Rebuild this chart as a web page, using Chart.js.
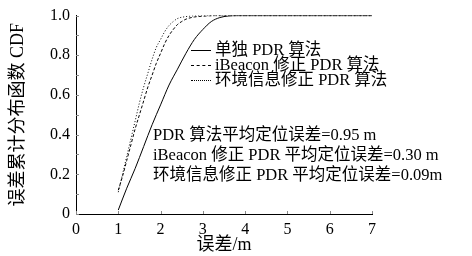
<!DOCTYPE html>
<html>
<head>
<meta charset="utf-8">
<script src="https://cdn.jsdelivr.net/npm/chart.js@4.4.1/dist/chart.umd.min.js"></script>
<style>
  html, body { margin: 0; padding: 0; background: #fff; }
  #wrap { position: relative; width: 472px; height: 256px; }
  canvas { display: block; }
  .txt { position: absolute; font-family: "Liberation Serif", "Noto Sans CJK SC", serif; font-size: 16.5px; color: #000; white-space: nowrap; line-height: 16px; }
  .sample { position: absolute; width: 20px; height: 0; border-top-width: 1px; border-top-color: #000; }
</style>
</head>
<body>
<div id="wrap">
  <canvas id="c" width="472" height="256"></canvas>
  <div class="sample" style="left:191px;top:50px;border-top-style:solid;"></div>
  <div class="txt" style="left:215px;top:42px;">单独 PDR 算法</div>
  <div class="sample" style="left:191px;top:65px;border-top-style:dashed;"></div>
  <div class="txt" style="left:215px;top:57px;">iBeacon 修正 PDR 算法</div>
  <div class="sample" style="left:191px;top:80px;border-top-style:dotted;"></div>
  <div class="txt" style="left:215px;top:72px;">环境信息修正 PDR 算法</div>
  <div class="txt" style="left:153px;top:127px;">PDR 算法平均定位误差=0.95 m</div>
  <div class="txt" style="left:153px;top:147px;">iBeacon 修正 PDR 平均定位误差=0.30 m</div>
  <div class="txt" style="left:153px;top:167px;">环境信息修正 PDR 平均定位误差=0.09m</div>
</div>
<script>
const seriesNames = ["单独 PDR 算法", "iBeacon 修正 PDR 算法", "环境信息修正 PDR 算法"];
const pdrX = [1.0, 1.2, 1.4, 1.6, 1.8, 2.0, 2.2, 2.4, 2.6, 2.8, 3.0, 3.2, 3.4, 3.6, 3.8, 7.0];
const pdrY = [0.02, 0.13, 0.23, 0.34, 0.45, 0.55, 0.65, 0.73, 0.81, 0.88, 0.93, 0.97, 0.99, 0.998, 1.0, 1.0];
const ibeaconX = [1.0, 1.1, 1.2, 1.3, 1.4, 1.5, 1.6, 1.7, 1.8, 1.9, 2.0, 2.1, 2.2, 2.3, 2.4, 2.5, 2.6, 2.8, 3.0, 3.3, 7.0];
const ibeaconY = [0.12, 0.19, 0.27, 0.35, 0.43, 0.50, 0.57, 0.64, 0.70, 0.76, 0.81, 0.86, 0.90, 0.93, 0.955, 0.97, 0.982, 0.993, 0.997, 1.0, 1.0];
const envX = [1.0, 1.1, 1.2, 1.3, 1.4, 1.5, 1.6, 1.7, 1.8, 1.9, 2.0, 2.1, 2.2, 2.3, 2.4, 2.6, 2.8, 3.0, 7.0];
const envY = [0.11, 0.20, 0.29, 0.38, 0.47, 0.56, 0.64, 0.71, 0.78, 0.84, 0.88, 0.92, 0.95, 0.97, 0.985, 0.995, 0.999, 1.0, 1.0];
const xTicks = [0, 1, 2, 3, 4, 5, 6, 7];
const yTicks = [0, 0.1, 0.2, 0.3, 0.4, 0.5, 0.6, 0.7, 0.8, 0.9, 1.0];
const xTitle = "误差/m";
const yTitle = "误差累计分布函数 CDF";

const pts = (xs, ys) => xs.map((x, i) => ({x: x, y: ys[i]}));
const FONT = "'Liberation Serif', 'Noto Sans CJK SC', serif";

const innerTicks = {
  id: 'innerTicks',
  afterDraw(chart) {
    const ctx = chart.ctx, a = chart.chartArea;
    const xs = chart.scales.x, ys = chart.scales.y;
    ctx.save();
    ctx.strokeStyle = '#888';
    ctx.lineWidth = 1;
    ctx.beginPath();
    xTicks.forEach(v => { const p = Math.round(xs.getPixelForValue(v)) + 0.5; ctx.moveTo(p, a.bottom); ctx.lineTo(p, a.bottom - 3); });
    yTicks.forEach(v => { const p = Math.round(ys.getPixelForValue(v)) + 0.5; ctx.moveTo(a.left, p); ctx.lineTo(a.left + 3, p); });
    ctx.stroke();
    ctx.restore();
  }
};

new Chart(document.getElementById('c'), {
  type: 'scatter',
  data: {
    datasets: [
      { label: seriesNames[0], data: pts(pdrX, pdrY), showLine: true, borderColor: '#000', borderWidth: 1, pointRadius: 0, cubicInterpolationMode: 'monotone' },
      { label: seriesNames[1], data: pts(ibeaconX, ibeaconY), showLine: true, borderColor: '#000', borderWidth: 1, borderDash: [3, 2], pointRadius: 0, cubicInterpolationMode: 'monotone' },
      { label: seriesNames[2], data: pts(envX, envY), showLine: true, borderColor: '#000', borderWidth: 1, borderDash: [1, 2], pointRadius: 0, cubicInterpolationMode: 'monotone' }
    ]
  },
  options: {
    responsive: false,
    animation: false,
    layout: { padding: { left: 0, right: 100, top: 10, bottom: 0 } },
    plugins: { legend: { display: false }, tooltip: { enabled: false } },
    scales: {
      x: {
        type: 'linear', min: 0, max: 7,
        afterFit(s) { s.height = 42; },
        afterBuildTicks(s) { s.ticks = xTicks.map(v => ({value: v})); },
        grid: { display: true, drawOnChartArea: false, drawTicks: false },
        border: { display: true, color: '#000', width: 1 },
        ticks: { color: '#000', padding: 6, font: { family: FONT, size: 16 }, callback: v => String(v) },
        title: { display: true, text: xTitle, color: '#000', font: { family: FONT, size: 18 }, padding: { top: 0, bottom: 0 } }
      },
      y: {
        type: 'linear', min: 0, max: 1,
        afterFit(s) { s.width = 76; },
        afterBuildTicks(s) { s.ticks = yTicks.map(v => ({value: v})); },
        grid: { display: true, drawOnChartArea: false, drawTicks: false },
        border: { display: true, color: '#000', width: 1 },
        ticks: { color: '#000', padding: 6, font: { family: FONT, size: 16 }, callback: v => (v === 0 ? '0' : v.toFixed(1)) },
        title: { display: true, text: yTitle, color: '#000', font: { family: FONT, size: 18 }, padding: { top: 7, bottom: 0 } }
      }
    }
  },
  plugins: [innerTicks]
});
</script>
</body>
</html>
